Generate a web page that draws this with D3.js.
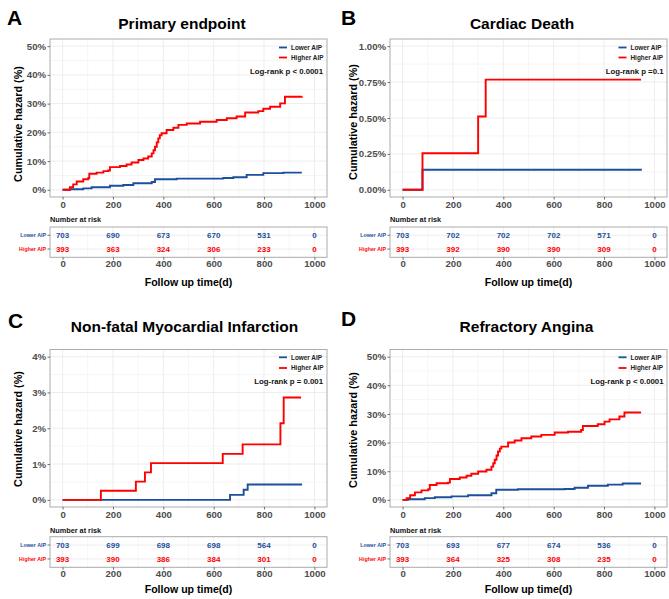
<!DOCTYPE html>
<html><head><meta charset="utf-8">
<script src="https://cdn.jsdelivr.net/npm/d3@7"></script>
<style>
body{margin:0;background:#fff}
svg{display:block}
text{font-family:"Liberation Sans",Arial,sans-serif;font-weight:bold}
</style>
</head><body>
<svg id="chart" width="669" height="599"></svg>
<script>
// ---------------- DATA ----------------
const timeTicks = [0, 200, 400, 600, 800, 1000];
const groupNames = ["Lower AIP", "Higher AIP"];
const panelLetters = ["A", "B", "C", "D"];
const panelTitles = ["Primary endpoint", "Cardiac Death", "Non-fatal Myocardial Infarction", "Refractory Angina"];
const logRankLabels = ["Log-rank p < 0.0001", "Log-rank p =0.1", "Log-rank p = 0.001", "Log-rank p < 0.0001"];

// y ticks (percent)
const primaryYTicks = [0, 10, 20, 30, 40, 50];
const cardiacYTicks = [0, 0.25, 0.5, 0.75, 1.0];
const miYTicks = [0, 1, 2, 3, 4];
const anginaYTicks = [0, 10, 20, 30, 40, 50];

// cumulative hazard curves: [day, percent]
const primaryLower = [[0,0],[29,0.2],[82,0.5],[115,0.9],[188,1.4],[241,1.7],[281,2.3],[354,2.7],[367,3.7],[453,3.9],[638,4.1],[678,4.4],[731,5.2],[797,5.8],[877,6.0],[950,6.0]];
const primaryHigher = [[0,0],[20,0],[29,0.9],[42,1.9],[56,2.9],[82,3.7],[102,4.1],[106,5.6],[135,6.0],[162,6.5],[181,6.7],[188,7.9],[228,8.3],[254,8.8],[274,9.5],[301,10.4],[321,10.9],[340,11.6],[354,12.7],[361,13.8],[367,15.0],[374,16.5],[380,17.9],[386,19.0],[393,19.7],[413,20.8],[440,21.6],[460,22.6],[493,23.1],[546,23.7],[612,24.3],[652,24.9],[691,25.5],[725,26.9],[777,27.4],[797,28.2],[824,28.9],[864,30.1],[883,32.4],[950,32.6]];

const cardiacLower = [[0,0],[79,0.14],[950,0.14]];
const cardiacHigher = [[0,0],[79,0.255],[300,0.51],[330,0.767],[947,0.767]];

const miLower = [[0,0],[665,0.14],[719,0.28],[735,0.43],[951,0.43]];
const miHigher = [[0,0],[152,0.255],[291,0.51],[327,0.767],[351,1.025],[636,1.285],[715,1.55],[865,2.14],[878,2.86],[947,2.86]];

const anginaLower = [[0,0],[22,0.2],[88,0.6],[128,0.9],[194,1.2],[260,1.6],[353,2.3],[372,3.5],[458,3.7],[643,3.8],[683,4.2],[736,4.9],[815,5.3],[874,5.7],[947,5.7]];
const anginaHigher = [[0,0],[10,0],[16,0.6],[30,1.6],[49,2.6],[75,3.3],[102,3.7],[108,5.2],[135,5.8],[181,6.0],[188,7.3],[227,7.8],[254,8.4],[273,9.1],[300,9.9],[333,10.5],[353,11.6],[360,12.8],[366,14.0],[373,15.5],[379,16.9],[386,17.9],[392,18.6],[419,20.0],[445,20.7],[472,21.5],[511,22.1],[551,22.7],[604,23.5],[657,23.8],[709,24.4],[716,25.8],[775,26.4],[802,27.3],[822,28.1],[861,29.1],[881,30.5],[947,30.5]];

// numbers at risk at timeTicks
const primaryRiskLower = [703, 690, 673, 670, 531, 0];
const primaryRiskHigher = [393, 363, 324, 306, 233, 0];
const cardiacRiskLower = [703, 702, 702, 702, 571, 0];
const cardiacRiskHigher = [393, 392, 390, 390, 309, 0];
const miRiskLower = [703, 699, 698, 698, 564, 0];
const miRiskHigher = [393, 390, 386, 384, 301, 0];
const anginaRiskLower = [703, 693, 677, 674, 536, 0];
const anginaRiskHigher = [393, 364, 325, 308, 235, 0];

// ---------------- STYLE / LAYOUT ----------------
const BLUE = "#1D4F9C", RED = "#FF0000";
const groupColors = [BLUE, RED];
const TICKCOL = "#4D4D4D", BORDER = "#ABABAB", GRID = "#EBEBEB", GRIDMINOR = "#F4F4F4";
const FONT = '"Liberation Sans",Arial,sans-serif';

const panels = [
  {curves:[primaryLower, primaryHigher], risk:[primaryRiskLower, primaryRiskHigher], yTicks:primaryYTicks, fmt:d=>d+"%",
   col:0,row:0, letterX:7, letterY:24.5, titleX:182, yTitleX:18.5, yTitleY:124},
  {curves:[cardiacLower, cardiacHigher], risk:[cardiacRiskLower, cardiacRiskHigher], yTicks:cardiacYTicks, fmt:d=>d.toFixed(2)+"%",
   col:1,row:0, letterX:341, letterY:25, titleX:522, yTitleX:353.5, yTitleY:122},
  {curves:[miLower, miHigher], risk:[miRiskLower, miRiskHigher], yTicks:miYTicks, fmt:d=>d+"%",
   col:0,row:1, letterX:8, letterY:328, titleX:184.5, yTitleX:18.5, yTitleY:429},
  {curves:[anginaLower, anginaHigher], risk:[anginaRiskLower, anginaRiskHigher], yTicks:anginaYTicks, fmt:d=>d+"%",
   col:1,row:1, letterX:341, letterY:325.5, titleX:526.5, yTitleX:353.5, yTitleY:430}
];
const cols = [{l:50, r:327, legLine:279, legText:291, lrRight:323}, {l:390, r:667, legLine:618.5, legText:630.5, lrRight:663.5}];
const rows = [
  {titleY:28.5, pt:39, pb:197, xTickY:208, narY:221.8, tt:227, tb:257.3, tTickY:267, axTitleY:285.5, leg1:47.5, leg2:57.5, lrY:73.8},
  {titleY:332,  pt:349.5, pb:507, xTickY:518, narY:532.8, tt:536.7, tb:567.3, tTickY:577.3, axTitleY:593, leg1:357.3, leg2:368, lrY:383.8}
];

const svg = d3.select("#chart");

panels.forEach((p, i) => {
  const c = cols[p.col], r = rows[p.row];
  const g = svg.append("g");
  const yMax = p.yTicks[p.yTicks.length - 1];
  const x = d3.scaleLinear().domain([-50, 1050]).range([c.l, c.r]);
  const y = d3.scaleLinear().domain([-yMax * 0.05, yMax * 1.05]).range([r.pb, r.pt]);

  // panel letter and title
  g.append("text").attr("x", p.letterX).attr("y", p.letterY).attr("font-size", 21).attr("fill", "#000").text(panelLetters[i]);
  g.append("text").attr("x", p.titleX).attr("y", r.titleY).attr("text-anchor", "middle").attr("font-size", 15.5).attr("fill", "#000").text(panelTitles[i]);

  // grid
  const step = p.yTicks[1] - p.yTicks[0];
  const yMinor = p.yTicks.slice(0, -1).map(v => v + step / 2);
  const xMinor = [100, 300, 500, 700, 900];
  g.selectAll(null).data(yMinor).enter().append("line")
    .attr("x1", c.l).attr("x2", c.r).attr("y1", d => y(d)).attr("y2", d => y(d)).attr("stroke", GRIDMINOR).attr("stroke-width", 0.8);
  g.selectAll(null).data(xMinor).enter().append("line")
    .attr("y1", r.pt).attr("y2", r.pb).attr("x1", d => x(d)).attr("x2", d => x(d)).attr("stroke", GRIDMINOR).attr("stroke-width", 0.8);
  g.selectAll(null).data(p.yTicks).enter().append("line")
    .attr("x1", c.l).attr("x2", c.r).attr("y1", d => y(d)).attr("y2", d => y(d)).attr("stroke", GRID).attr("stroke-width", 0.9);
  g.selectAll(null).data(timeTicks).enter().append("line")
    .attr("y1", r.pt).attr("y2", r.pb).attr("x1", d => x(d)).attr("x2", d => x(d)).attr("stroke", GRID).attr("stroke-width", 0.9);

  // curves: lower first, higher drawn on top
  const line = d3.line().x(d => x(d[0])).y(d => y(d[1])).curve(d3.curveStepAfter);
  [0, 1].forEach(k => {
    g.append("path").datum(p.curves[k]).attr("d", line).attr("fill", "none")
      .attr("stroke", groupColors[k]).attr("stroke-width", 1.9).attr("stroke-linejoin", "miter");
  });

  // border
  g.append("rect").attr("x", c.l).attr("y", r.pt).attr("width", c.r - c.l).attr("height", r.pb - r.pt)
    .attr("fill", "none").attr("stroke", BORDER).attr("stroke-width", 1);

  // axes
  const yAxis = d3.axisLeft(y).tickValues(p.yTicks).tickFormat(p.fmt).tickSize(2.5).tickPadding(1.5);
  const ya = g.append("g").attr("transform", `translate(${c.l},0)`).call(yAxis);
  const xAxis = d3.axisBottom(x).tickValues(timeTicks).tickFormat(d3.format("d")).tickSize(2.5);
  const xa = g.append("g").attr("transform", `translate(0,${r.pb})`).call(xAxis);
  [ya, xa].forEach(a => {
    a.attr("font-family", FONT).attr("font-size", 9.6);
    a.select(".domain").remove();
    a.selectAll(".tick line").attr("stroke", TICKCOL).attr("stroke-width", 0.8);
    a.selectAll(".tick text").attr("fill", TICKCOL);
  });
  xa.selectAll(".tick text").attr("dy", null).attr("y", r.xTickY - r.pb);

  // y axis title
  g.append("text").attr("transform", `translate(${p.yTitleX},${p.yTitleY}) rotate(-90)`)
    .attr("text-anchor", "middle").attr("dy", "0.35em").attr("font-size", 10.8).attr("fill", "#000").text("Cumulative hazard (%)");

  // legend
  [r.leg1, r.leg2].forEach((ly, k) => {
    g.append("line").attr("x1", c.legLine).attr("x2", c.legLine + 8).attr("y1", ly).attr("y2", ly)
      .attr("stroke", groupColors[k]).attr("stroke-width", 1.8);
    g.append("text").attr("x", c.legText).attr("y", ly).attr("dy", "0.35em").attr("font-size", 6.4).attr("fill", "#222").text(groupNames[k]);
  });
  g.append("text").attr("x", c.lrRight).attr("y", r.lrY).attr("text-anchor", "end").attr("font-size", 7.8).attr("fill", "#111").text(logRankLabels[i]);

  // risk table
  g.append("text").attr("x", c.l).attr("y", r.narY).attr("font-size", 7.3).attr("fill", "#111").text("Number at risk");
  const tyPos = d => { const unit = (r.tb - r.tt) / 2.2; return groupNames.indexOf(d) === 0 ? r.tt + 0.6 * unit : r.tt + 1.6 * unit; };
  g.selectAll(null).data(xMinor).enter().append("line")
    .attr("y1", r.tt).attr("y2", r.tb).attr("x1", d => x(d)).attr("x2", d => x(d)).attr("stroke", GRIDMINOR).attr("stroke-width", 0.8);
  g.selectAll(null).data(timeTicks).enter().append("line")
    .attr("y1", r.tt).attr("y2", r.tb).attr("x1", d => x(d)).attr("x2", d => x(d)).attr("stroke", GRID).attr("stroke-width", 0.9);
  g.selectAll(null).data(groupNames).enter().append("line")
    .attr("x1", c.l).attr("x2", c.r).attr("y1", d => tyPos(d)).attr("y2", d => tyPos(d)).attr("stroke", GRID).attr("stroke-width", 0.9);
  g.append("rect").attr("x", c.l).attr("y", r.tt).attr("width", c.r - c.l).attr("height", r.tb - r.tt)
    .attr("fill", "none").attr("stroke", BORDER).attr("stroke-width", 1);
  groupNames.forEach((gn, k) => {
    const yy = tyPos(gn);
    g.append("line").attr("x1", c.l - 2.5).attr("x2", c.l).attr("y1", yy).attr("y2", yy).attr("stroke", TICKCOL).attr("stroke-width", 0.8);
    g.append("text").attr("x", c.l - 4).attr("y", yy).attr("dy", "0.35em").attr("text-anchor", "end")
      .attr("font-size", 5.3).attr("fill", groupColors[k]).text(gn);
    g.selectAll(null).data(p.risk[k]).enter().append("text")
      .attr("x", (d, j) => x(timeTicks[j])).attr("y", yy).attr("dy", "0.36em").attr("text-anchor", "middle")
      .attr("font-size", 8).attr("fill", groupColors[k]).text(d => d);
  });
  const txa = g.append("g").attr("transform", `translate(0,${r.tb})`)
    .call(d3.axisBottom(x).tickValues(timeTicks).tickFormat(d3.format("d")).tickSize(2.5));
  txa.attr("font-family", FONT).attr("font-size", 9.6);
  txa.select(".domain").remove();
  txa.selectAll(".tick line").attr("stroke", TICKCOL).attr("stroke-width", 0.8);
  txa.selectAll(".tick text").attr("fill", TICKCOL).attr("dy", null).attr("y", r.tTickY - r.tb);

  // x axis title
  g.append("text").attr("x", (c.l + c.r) / 2).attr("y", r.axTitleY).attr("text-anchor", "middle")
    .attr("font-size", 10.6).attr("fill", "#000").text("Follow up time(d)");
});
</script>
</body></html>
